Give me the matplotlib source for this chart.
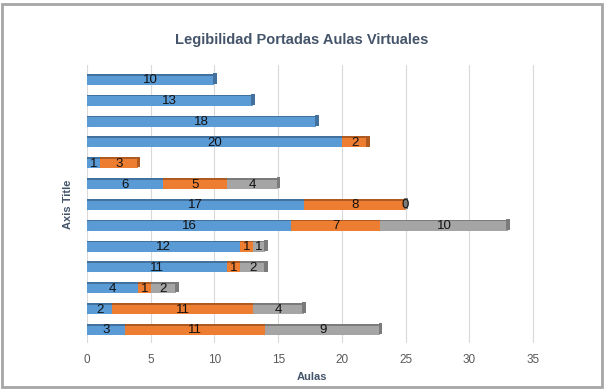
import matplotlib.pyplot as plt
from matplotlib.patches import Rectangle
import numpy as np

plt.rcParams['font.family'] = ['Liberation Sans Narrow', 'Liberation Sans', 'DejaVu Sans']

# Datos (de arriba hacia abajo)
serie1 = [10, 13, 18, 20, 1, 6, 17, 16, 12, 11, 4, 2, 3]
serie2 = [np.nan, np.nan, np.nan, 2, 3, 5, 8, 7, 1, 1, 1, 11, 11]
serie3 = [np.nan, np.nan, np.nan, np.nan, np.nan, 4, 0, 10, 1, 2, 2, 4, 9]
xticks = [0, 5, 10, 15, 20, 25, 30, 35]

colores = ['#5B9BD5', '#ED7D31', '#A5A5A5']
oscuros = ['#41719C', '#AE5A21', '#7B7B7B']

fig = plt.figure(figsize=(6.04, 3.89), dpi=100)
ax = fig.add_axes([0.144, 0.118, 0.745, 0.715])

y = np.arange(len(serie1))
h = 0.52
izq = np.zeros(len(serie1))
ultimo = np.zeros(len(serie1), dtype=int)

for i, serie in enumerate([serie1, serie2, serie3]):
    vals = np.array(serie, dtype=float)
    ok = ~np.isnan(vals)
    w = np.where(ok, vals, 0)
    ax.barh(y[ok], w[ok], left=izq[ok], height=h, color=colores[i], zorder=3)
    # cara superior (efecto 3D)
    ax.barh(y[ok] - h / 2 + 0.03, w[ok], left=izq[ok], height=0.08, color=oscuros[i], zorder=3)
    for yy, v, l in zip(y[ok], w[ok], izq[ok]):
        ax.text(l + v / 2, yy + 0.04, f'{int(v)}', ha='center', va='center',
                fontsize=9.5, color='#111111', zorder=5)
    ultimo[ok] = i
    izq = izq + w

# tapa derecha de cada barra
for yy, total, k in zip(y, izq, ultimo):
    ax.barh(yy - 0.04, 0.28, left=total - 0.1, height=h, color=oscuros[k], zorder=4)

ax.set_xlim(0, 35.3)
ax.set_ylim(12.65, -0.7)
ax.set_xticks(xticks)
ax.set_yticks([])
ax.grid(axis='x', color='#D9D9D9', linewidth=0.8, zorder=0)
for s in ax.spines.values():
    s.set_visible(False)
ax.tick_params(axis='x', length=0, labelsize=8.5, labelcolor='#595959', pad=8)

ax.set_xlabel('Aulas', fontsize=8, fontweight='bold', color='#44546A', labelpad=4)
ax.set_ylabel('Axis Title', fontsize=8, fontweight='bold', color='#44546A', labelpad=10)
fig.suptitle('Legibilidad Portadas Aulas Virtuales', y=0.915, fontsize=10.5,
             fontweight='bold', color='#44546A')

fig.patches.append(Rectangle((0.004, 0.006), 0.992, 0.984, transform=fig.transFigure,
                             fill=False, edgecolor='#A6A6A6', linewidth=2))

fig.savefig('out.png', dpi=100)
